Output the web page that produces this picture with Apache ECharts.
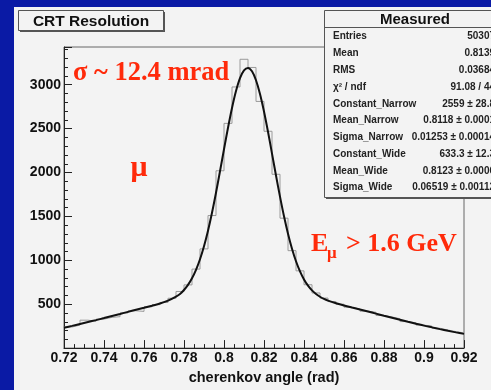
<!DOCTYPE html>
<html><head><meta charset="utf-8">
<script src="https://cdn.jsdelivr.net/npm/echarts@6/dist/echarts.min.js"></script>
<style>html,body{margin:0;padding:0;background:#0a1aa5}#c{width:491px;height:390px}</style>
</head><body><div id="c"></div>
<script>
// ---- data ----
const histLow = 0.72;
const histBinWidth = 0.004;
const histCounts = [240, 262, 318, 305, 330, 350, 358, 400, 425, 418,
  470, 495, 520, 568, 645, 720, 900, 1130, 1510, 2020,
  2560, 2975, 3290, 3197, 2810, 2470, 1980, 1480, 1110, 880,
  722, 628, 570, 530, 500, 466, 445, 420, 408, 372,
  355, 335, 302, 288, 262, 250, 226, 206, 188, 172];
const fitX = [0.720, 0.724, 0.728, 0.732, 0.736, 0.740, 0.744, 0.748, 0.752, 0.756,
  0.760, 0.764, 0.768, 0.772, 0.776, 0.778, 0.780, 0.782, 0.784, 0.786,
  0.788, 0.790, 0.792, 0.794, 0.796, 0.798, 0.800, 0.802, 0.804, 0.806,
  0.808, 0.810, 0.812, 0.814, 0.816, 0.818, 0.820, 0.822, 0.824, 0.826,
  0.828, 0.830, 0.832, 0.834, 0.836, 0.838, 0.840, 0.842, 0.844, 0.846,
  0.848, 0.850, 0.852, 0.856, 0.860, 0.864, 0.868, 0.872, 0.876, 0.880,
  0.884, 0.888, 0.892, 0.896, 0.900, 0.904, 0.908, 0.912, 0.916, 0.920];
const fitY = [232, 253, 275, 297, 319, 342, 366, 389, 413, 436,
  459, 483, 508, 540, 586, 616, 662, 720, 795, 891,
  1012, 1161, 1338, 1542, 1770, 2014, 2265, 2510, 2736, 2929,
  3076, 3165, 3192, 3153, 3051, 2895, 2695, 2464, 2216, 1966,
  1725, 1501, 1303, 1132, 989, 874, 782, 711, 657, 616,
  585, 560, 541, 511, 485, 462, 440, 417, 393, 369,
  346, 323, 300, 278, 256, 236, 216, 197, 179, 162];
const statsTitle = 'Measured';
const statsLabels = ['Entries', 'Mean', 'RMS', 'χ² / ndf', 'Constant_Narrow', 'Mean_Narrow',
  'Sigma_Narrow', 'Constant_Wide', 'Mean_Wide', 'Sigma_Wide'];
const statsValues = ['50307', '0.8139', '0.03684', '91.08 / 44', '2559 ± 28.8', '0.8118 ± 0.0001',
  '0.01253 ± 0.00014', '633.3 ± 12.3', '0.8123 ± 0.0006', '0.06519 ± 0.00112'];
const titleText = 'CRT Resolution';
const xAxisName = 'cherenkov angle (rad)';
const noteSigma = 'σ ~ 12.4 mrad';
const noteParticle = 'μ';
const noteEnergy = ['E', 'μ', '> 1.6 GeV'];

// ---- build ----
const histData = histCounts.map((v, i) => [+(histLow + i * histBinWidth).toFixed(3), v]);
histData.push([+(histLow + histCounts.length * histBinWidth).toFixed(3), histCounts[histCounts.length - 1]]);
const fitData = fitX.map((x, i) => [x, fitY[i]]);

const SANS = '"Liberation Sans", Arial, sans-serif';
const SERIF = '"Liberation Serif", "Times New Roman", serif';
const RED = '#ff2a0a';
const PAD = '#f3f3f3';

const graphics = [
  {type: 'rect', z: -10, silent: true, shape: {x: 14, y: 7, width: 477, height: 383}, style: {fill: PAD}},
  // title box
  {type: 'rect', z: 10, shape: {x: 20, y: 12, width: 145, height: 20}, style: {fill: '#555'}},
  {type: 'rect', z: 11, shape: {x: 18.5, y: 10.5, width: 145, height: 20}, style: {fill: PAD, stroke: '#555', lineWidth: 1}},
  {type: 'text', z: 12, x: 91, y: 22, style: {text: titleText, font: 'bold 15.5px ' + SANS, fill: '#111', align: 'center', verticalAlign: 'middle'}},
  // stats box
  {type: 'rect', z: 10, shape: {x: 326, y: 12, width: 200, height: 187}, style: {fill: '#555'}},
  {type: 'rect', z: 11, shape: {x: 324.5, y: 10.5, width: 200, height: 187}, style: {fill: PAD, stroke: '#555', lineWidth: 1}},
  {type: 'line', z: 12, shape: {x1: 324.5, y1: 27.5, x2: 491, y2: 27.5}, style: {stroke: '#555', lineWidth: 1}},
  {type: 'text', z: 12, x: 415, y: 20, style: {text: statsTitle, font: 'bold 15px ' + SANS, fill: '#111', align: 'center', verticalAlign: 'middle'}},
  // notes
  {type: 'text', z: 12, x: 73, y: 73, style: {text: noteSigma, font: 'bold 26.5px ' + SERIF, fill: RED, align: 'left', verticalAlign: 'middle'}},
  {type: 'text', z: 12, x: 139, y: 168, style: {text: noteParticle, font: 'bold 30px ' + SERIF, fill: RED, align: 'center', verticalAlign: 'middle'}},
  {type: 'text', z: 12, x: 311, y: 244, style: {text: noteEnergy[0], font: 'bold 26px ' + SERIF, fill: RED, align: 'left', verticalAlign: 'middle'}},
  {type: 'text', z: 12, x: 327, y: 254, style: {text: noteEnergy[1], font: 'bold 17px ' + SERIF, fill: RED, align: 'left', verticalAlign: 'middle'}},
  {type: 'text', z: 12, x: 346, y: 244, style: {text: noteEnergy[2], font: 'bold 26px ' + SERIF, fill: RED, align: 'left', verticalAlign: 'middle'}}
];
const rowY = [36.7, 53.3, 70.5, 87.3, 103.8, 120.5, 137.3, 154, 171, 187.7];
statsLabels.forEach((lab, i) => {
  graphics.push({type: 'text', z: 12, x: 333, y: rowY[i], style: {text: lab, font: 'bold 10px ' + SANS, fill: '#222', align: 'left', verticalAlign: 'middle'}});
  graphics.push({type: 'text', z: 12, x: 495, y: rowY[i], style: {text: statsValues[i], font: 'bold 10px ' + SANS, fill: '#222', align: 'right', verticalAlign: 'middle'}});
});

const chart = echarts.init(document.getElementById('c'), null, {renderer: 'canvas'});
chart.setOption({
  animation: false,
  backgroundColor: '#0a1aa5',
  grid: {left: 64, right: 27, top: 47, bottom: 33, show: true, borderColor: '#666', borderWidth: 1, backgroundColor: 'transparent'},
  xAxis: {
    type: 'value', min: 0.72, max: 0.92, interval: 0.02,
    name: xAxisName, nameLocation: 'middle', nameGap: 18,
    nameTextStyle: {fontFamily: SANS, fontWeight: 'bold', fontSize: 14.5, color: '#111'},
    axisLine: {lineStyle: {color: '#222', width: 1}},
    axisTick: {inside: true, length: 8, lineStyle: {color: '#222'}},
    minorTick: {show: true, splitNumber: 4, length: 4, lineStyle: {color: '#222'}},
    splitLine: {show: false},
    axisLabel: {margin: 3, fontFamily: SANS, fontWeight: 'bold', fontSize: 14, color: '#111',
      formatter: v => String(+v.toFixed(2))}
  },
  yAxis: {
    type: 'value', min: 0, max: 3430, interval: 500,
    axisLine: {show: true, lineStyle: {color: '#222', width: 1}},
    axisTick: {show: true, inside: true, length: 8, lineStyle: {color: '#222'}},
    minorTick: {show: true, splitNumber: 5, length: 4, lineStyle: {color: '#222'}},
    splitLine: {show: false},
    axisLabel: {margin: 3, fontFamily: SANS, fontWeight: 'bold', fontSize: 14, color: '#111',
      showMaxLabel: false,
      formatter: v => (v === 0 || v % 500 !== 0 ? '' : String(v))}
  },
  series: [
    {type: 'line', data: histData, step: 'end', showSymbol: false, symbol: 'none',
      lineStyle: {color: '#9a9a9a', width: 1}, z: 2},
    {type: 'line', data: fitData, smooth: 0.3, showSymbol: false, symbol: 'none',
      lineStyle: {color: '#111', width: 2}, z: 3}
  ],
  graphic: graphics
});
</script></body></html>
